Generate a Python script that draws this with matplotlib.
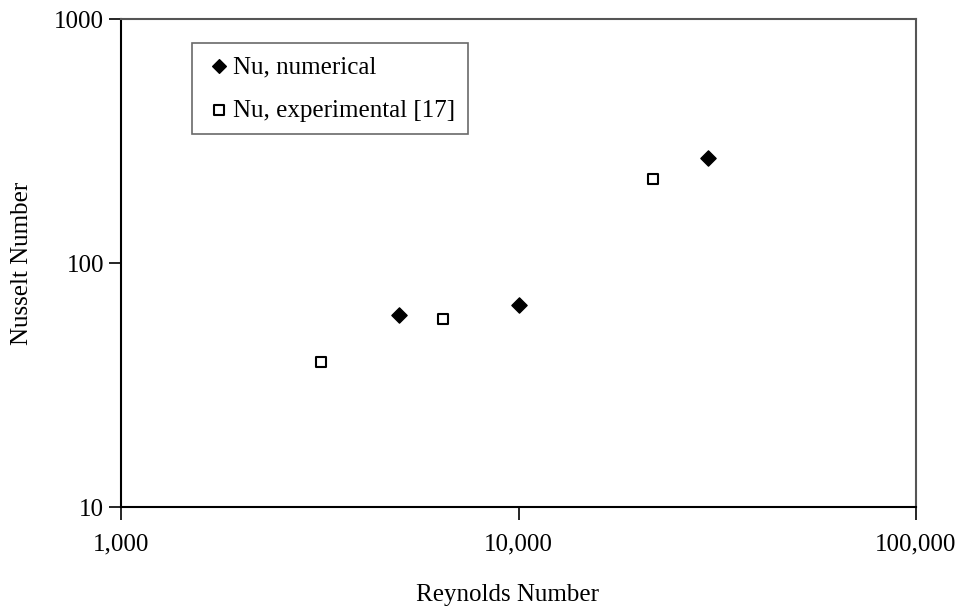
import numpy as np
import matplotlib.pyplot as plt
from matplotlib.ticker import FixedLocator, NullLocator

plt.rcParams['font.family'] = ['Liberation Serif', 'DejaVu Serif']

# Nusselt number vs Reynolds number
re_num = [5000, 10000, 30000]
nu_num = [61.3, 67.3, 269]
re_exp = [3185, 6450, 21800]
nu_exp = [39.3, 58.9, 221]

x_ticks = [1000, 10000, 100000]
x_labels = ['1,000', '10,000', '100,000']
y_ticks = [10, 100, 1000]
y_labels = ['10', '100', '1000']

fig = plt.figure(figsize=(9.63, 6.07), dpi=100)
ax = fig.add_axes([121 / 963, 1 - 507 / 607, (916 - 121) / 963, (507 - 19) / 607])

ax.scatter(re_num, nu_num, marker='D', s=60, color='black', label='Nu, numerical', zorder=3)
ax.scatter(re_exp, nu_exp, marker='s', s=60, facecolor='white', edgecolor='black',
           linewidth=1.5, label='Nu, experimental [17]', zorder=3)

ax.set_xscale('log')
ax.set_yscale('log')
ax.set_xlim(1000, 100000)
ax.set_ylim(10, 1000)
ax.xaxis.set_major_locator(FixedLocator(x_ticks))
ax.xaxis.set_minor_locator(NullLocator())
ax.yaxis.set_major_locator(FixedLocator(y_ticks))
ax.yaxis.set_minor_locator(NullLocator())
ax.set_xticklabels(x_labels)
ax.set_yticklabels(y_labels)
ax.tick_params(axis='both', which='major', direction='out', length=9, width=1.2,
               labelsize=18, color='black')
ax.tick_params(axis='x', pad=10)
ax.tick_params(axis='y', pad=3)

for side in ['left', 'bottom']:
    ax.spines[side].set_linewidth(1.5)
    ax.spines[side].set_color('black')
for side in ['top', 'right']:
    ax.spines[side].set_linewidth(1.5)
    ax.spines[side].set_color('#555555')

ax.set_xlabel('Reynolds Number', fontsize=18)
ax.set_ylabel('Nusselt Number', fontsize=18)
ax.xaxis.set_label_coords((507 - 121) / 795, -(595 - 507) / 488)
ax.yaxis.set_label_coords(-(121 - 22) / 795, (507 - 263) / 488)
ax.xaxis.label.set_va('center')
ax.yaxis.label.set_va('center')

leg = ax.legend(loc='upper left', bbox_to_anchor=((192 - 121) / 795, 1 - (43 - 19) / 488),
                fontsize=18, frameon=True, fancybox=False, handletextpad=0.0,
                handlelength=1.15, borderpad=0.5, labelspacing=0.85, markerscale=0.9,
                borderaxespad=0)
leg.get_frame().set_edgecolor('#444444')
leg.get_frame().set_linewidth(1.2)

fig.savefig('out.png', dpi=100)
